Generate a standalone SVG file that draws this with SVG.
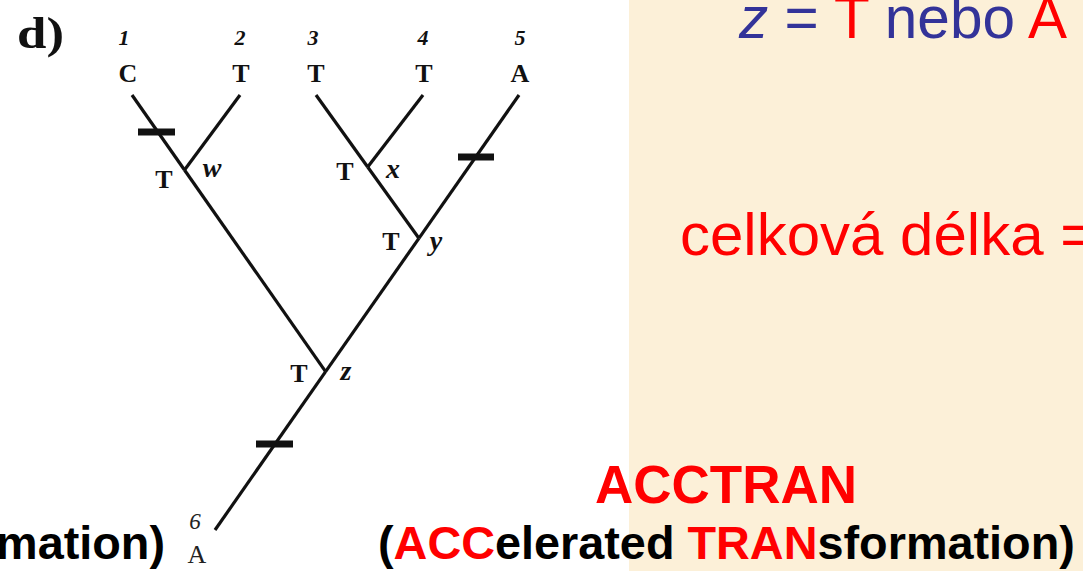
<svg xmlns="http://www.w3.org/2000/svg" width="1083" height="571" viewBox="0 0 1083 571">
<style>
.br{stroke:#111;stroke-width:3.2;fill:none;stroke-linecap:butt}
.tick{fill:#111}
.num{font-family:"Liberation Serif",serif;font-style:italic;font-weight:bold;font-size:22px;fill:#111;text-anchor:middle}
.st{font-family:"Liberation Serif",serif;font-weight:bold;font-size:26px;fill:#111;text-anchor:middle}
.lbl{font-family:"Liberation Serif",serif;font-style:italic;font-weight:bold;font-size:28px;fill:#111;text-anchor:middle}
.sans{font-family:"Liberation Sans",Arial,sans-serif}
.blue{fill:#333399}
.red{fill:#ff0000}
.blk{fill:#000}
</style>
<rect x="0" y="0" width="1083" height="571" fill="#ffffff"/>
<rect x="629" y="0" width="454" height="571" fill="#fcf0d8"/>
<text x="17" y="48" font-family="Liberation Serif,serif" font-weight="bold" font-size="45" fill="#111" textLength="47" lengthAdjust="spacingAndGlyphs">d)</text>
<g id="connectors">
<line class="br" x1="132" y1="95" x2="184.5" y2="170"/>
<line class="br" x1="240" y1="95" x2="184.5" y2="170"/>
<line class="br" x1="184.5" y1="170" x2="325.6" y2="371.6"/>
<line class="br" x1="316" y1="95" x2="367.7" y2="167"/>
<line class="br" x1="423" y1="95" x2="367.7" y2="167"/>
<line class="br" x1="367.7" y1="167" x2="418.9" y2="238.3"/>
<line class="br" x1="519" y1="95" x2="418.9" y2="238.3"/>
<line class="br" x1="418.9" y1="238.3" x2="325.6" y2="371.6"/>
<line class="br" x1="325.6" y1="371.6" x2="215" y2="530"/>
<rect class="tick" x="138" y="128.5" width="37" height="7"/>
<rect class="tick" x="458" y="153.5" width="36" height="7"/>
<rect class="tick" x="256" y="440.5" width="37" height="7"/>
</g>
<g id="leaf1"><text class="num" x="124" y="45">1</text><text class="st" x="128" y="82">C</text></g>
<g id="leaf2"><text class="num" x="240" y="45">2</text><text class="st" x="241" y="82">T</text></g>
<g id="leaf3"><text class="num" x="313" y="45">3</text><text class="st" x="316" y="82">T</text></g>
<g id="leaf4"><text class="num" x="423" y="45">4</text><text class="st" x="424" y="82">T</text></g>
<g id="leaf5"><text class="num" x="520" y="45">5</text><text class="st" x="520" y="82">A</text></g>
<g id="leaf6"><text x="195" y="529" font-family="Liberation Serif,serif" font-style="italic" font-size="23" fill="#222" text-anchor="middle">6</text><text x="197" y="563" font-family="Liberation Serif,serif" font-size="26" fill="#222" text-anchor="middle">A</text></g>
<g id="node-w"><text class="st" x="164" y="188">T</text><text class="lbl" x="212" y="177">w</text></g>
<g id="node-x"><text class="st" x="345" y="180">T</text><text class="lbl" x="393" y="178">x</text></g>
<g id="node-y"><text class="st" x="391" y="250">T</text><text class="lbl" x="436" y="250">y</text></g>
<g id="node-z"><text class="st" x="299" y="382">T</text><text class="lbl" x="346" y="380">z</text></g>
<g id="text-right">
<text class="sans" x="739" y="38" font-size="58.5"><tspan class="blue" font-style="italic">z</tspan><tspan class="blue"> = </tspan><tspan class="red">T</tspan><tspan class="blue"> nebo </tspan><tspan class="red">A</tspan></text>
<text class="sans red" x="680" y="255" font-size="60">celková délka =</text>
<text class="sans red" x="595" y="503" font-size="53" font-weight="bold">ACCTRAN</text>
<text class="sans blk" x="378" y="559" font-size="46.8" font-weight="bold">(<tspan class="red">ACC</tspan>elerated <tspan class="red">TRAN</tspan>sformation)</text>
<text class="sans blk" x="165" y="559" font-size="46.8" font-weight="bold" text-anchor="end">mation)</text>
</g>
</svg>
